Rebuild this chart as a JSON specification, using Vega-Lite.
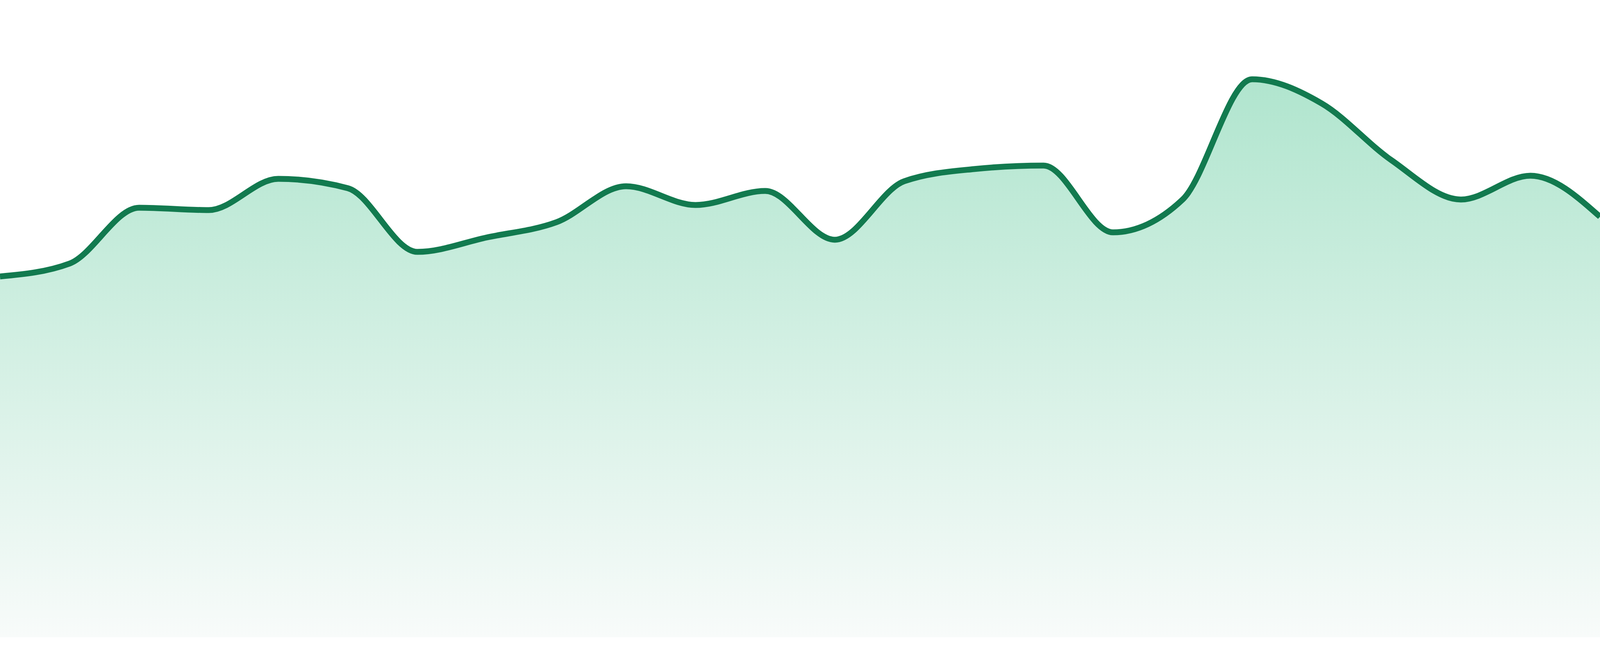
{
  "$schema": "https://vega.github.io/schema/vega-lite/v6.json",
  "description": "Smooth green area trend with gradient fill",
  "width": "container",
  "height": 1680,
  "padding": 0,
  "autosize": {"type": "fit", "contains": "padding"},
  "background": "#ffffff",
  "config": {"view": {"stroke": null}},
  "data": {
    "values": [
      {"i": 0, "v": 924},
      {"i": 1, "v": 957},
      {"i": 2, "v": 1100},
      {"i": 3, "v": 1094},
      {"i": 4, "v": 1174},
      {"i": 5, "v": 1150},
      {"i": 6, "v": 987},
      {"i": 7, "v": 1024},
      {"i": 8, "v": 1063},
      {"i": 9, "v": 1155},
      {"i": 10, "v": 1107},
      {"i": 11, "v": 1143},
      {"i": 12, "v": 1018},
      {"i": 13, "v": 1168},
      {"i": 14, "v": 1199},
      {"i": 15, "v": 1208},
      {"i": 16, "v": 1037},
      {"i": 17, "v": 1121},
      {"i": 18, "v": 1429},
      {"i": 19, "v": 1367},
      {"i": 20, "v": 1222},
      {"i": 21, "v": 1121},
      {"i": 22, "v": 1182},
      {"i": 23, "v": 1077}
    ]
  },
  "encoding": {
    "x": {
      "field": "i",
      "type": "quantitative",
      "scale": {"domain": [0, 23], "nice": false, "zero": false},
      "axis": null
    },
    "y": {
      "field": "v",
      "type": "quantitative",
      "scale": {"domain": [-48, 1632], "nice": false, "zero": false},
      "axis": null
    }
  },
  "layer": [
    {
      "mark": {
        "type": "area",
        "interpolate": "monotone",
        "clip": true,
        "color": {
          "gradient": "linear",
          "x1": 0, "y1": 0, "x2": 0, "y2": 1,
          "stops": [
            {"offset": 0, "color": "#b0e5ce"},
            {"offset": 1, "color": "#f8fbfa"}
          ]
        }
      },
      "encoding": {"y2": {"datum": 0}}
    },
    {
      "mark": {
        "type": "line",
        "interpolate": "monotone",
        "clip": true,
        "color": "#127a4f",
        "strokeWidth": 15
      }
    }
  ]
}
